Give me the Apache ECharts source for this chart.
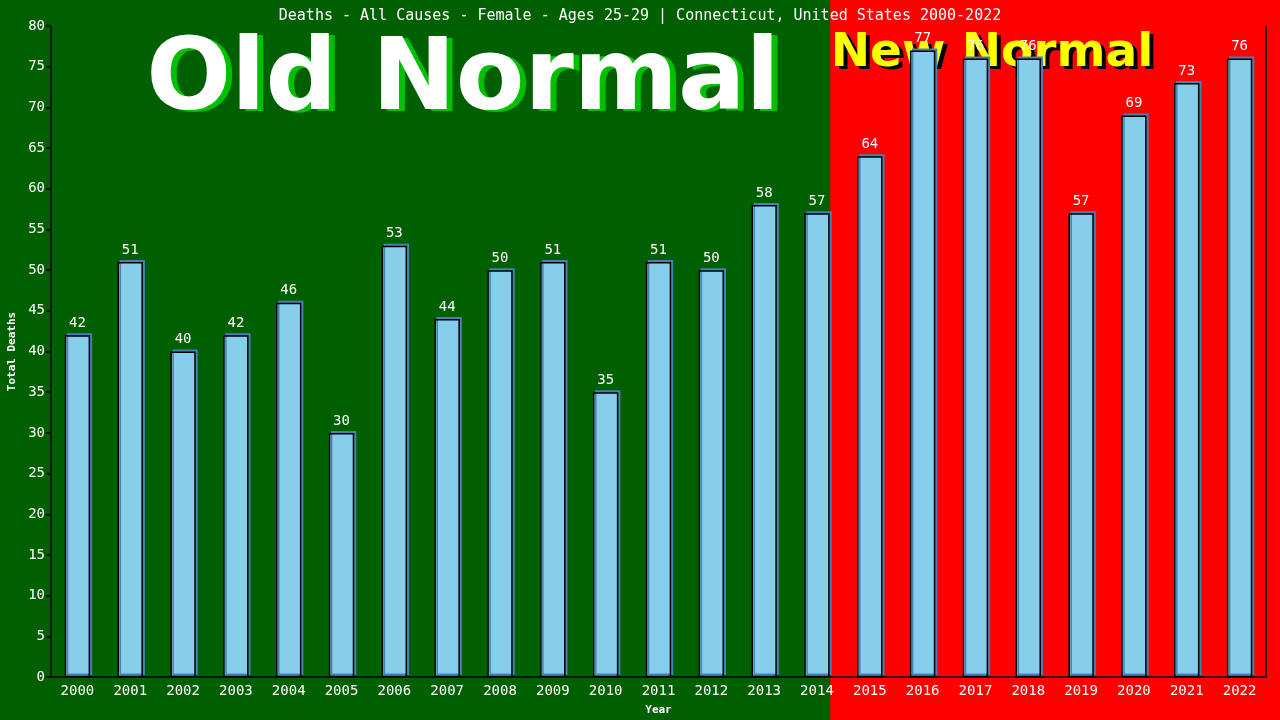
<!DOCTYPE html>
<html>
<head>
<meta charset="utf-8">
<script src="https://cdn.jsdelivr.net/npm/echarts@6/dist/echarts.min.js"></script>
<style>html,body{margin:0;padding:0;background:#006000;}#c{width:1280px;height:720px;}</style>
</head>
<body>
<div id="c"></div>
<script>
const years = ['2000','2001','2002','2003','2004','2005','2006','2007','2008','2009','2010','2011','2012','2013','2014','2015','2016','2017','2018','2019','2020','2021','2022'];
const deaths = [42,51,40,42,46,30,53,44,50,51,35,51,50,58,57,64,77,76,76,57,69,73,76];
const titleText = 'Deaths - All Causes - Female - Ages 25-29 | Connecticut, United States 2000-2022';
const lastOldYear = '2014';

const chart = echarts.init(document.getElementById('c'));
const mono = 'DejaVu Sans Mono';
chart.setOption({
  animation: false,
  backgroundColor: '#006000',
  title: {
    text: titleText, left: 'center', top: 4,
    textStyle: {color: '#ffffff', fontFamily: mono, fontSize: 15, fontWeight: 'normal'}
  },
  grid: {left: 51, right: 14, top: 26, bottom: 43, containLabel: false, outerBoundsMode: 'none'},
  xAxis: {
    type: 'category', data: years,
    name: 'Year', nameLocation: 'middle', nameGap: 28,
    nameTextStyle: {color: '#ffffff', fontFamily: mono, fontSize: 11, fontWeight: 'bold'},
    axisLine: {lineStyle: {color: '#000000', width: 1.5}},
    axisTick: {show: false},
    axisLabel: {color: '#ffffff', fontFamily: mono, fontSize: 14, margin: 7}
  },
  yAxis: [{
    type: 'value', min: 0, max: 80, interval: 5,
    name: 'Total Deaths', nameLocation: 'middle', nameGap: 32,
    nameTextStyle: {color: '#ffffff', fontFamily: mono, fontSize: 11, fontWeight: 'bold'},
    splitLine: {show: false},
    axisLine: {show: true, lineStyle: {color: '#000000', width: 1.5}},
    axisTick: {show: true, length: 5, lineStyle: {color: '#000000', width: 1.5}},
    axisLabel: {color: '#ffffff', fontFamily: mono, fontSize: 14, margin: 6}
  }, {
    type: 'value', min: 0, max: 80, interval: 5, position: 'right',
    splitLine: {show: false},
    axisLine: {show: true, lineStyle: {color: '#000000', width: 1.5}},
    axisTick: {show: false}, axisLabel: {show: false}
  }],
  series: [{
    type: 'bar', data: deaths, barWidth: '48%', z: 3,
    itemStyle: {
      color: '#87ceeb', borderColor: '#000000', borderWidth: 1.5,
      shadowColor: '#4682b4', shadowBlur: 0, shadowOffsetX: 2, shadowOffsetY: -2
    },
    label: {show: true, position: 'top', distance: 5, color: '#ffffff', fontFamily: mono, fontSize: 14}
  }]
});

function drawBg() {
  const c0 = chart.convertToPixel({xAxisIndex: 0}, years[0]);
  const c1 = chart.convertToPixel({xAxisIndex: 0}, years[1]);
  const band = c1 - c0;
  const cx = chart.convertToPixel({xAxisIndex: 0}, lastOldYear);
  const boundary = cx + band * 0.25;
  chart.setOption({
    graphic: [
      {type: 'rect', z: -10, silent: true, shape: {x: boundary, y: 0, width: 1280 - boundary, height: 720}, style: {fill: '#ff0000'}},
      {type: 'text', z: 1, silent: true, x: 469, y: 85, style: {text: 'Old Normal', fill: '#00c000', font: 'bold 100px "DejaVu Sans"', textAlign: 'center', textVerticalAlign: 'middle'}},
      {type: 'text', z: 1, silent: true, x: 463, y: 83, style: {text: 'Old Normal', fill: '#ffffff', font: 'bold 100px "DejaVu Sans"', textAlign: 'center', textVerticalAlign: 'middle'}},
      {type: 'text', z: 1, silent: true, x: 996, y: 57, style: {text: 'New Normal', fill: '#000000', font: 'bold 47px "DejaVu Sans"', textAlign: 'center', textVerticalAlign: 'middle'}},
      {type: 'text', z: 1, silent: true, x: 992, y: 54, style: {text: 'New Normal', fill: '#ffff00', font: 'bold 47px "DejaVu Sans"', textAlign: 'center', textVerticalAlign: 'middle'}}
    ]
  });
}
drawBg();
</script>
</body>
</html>
